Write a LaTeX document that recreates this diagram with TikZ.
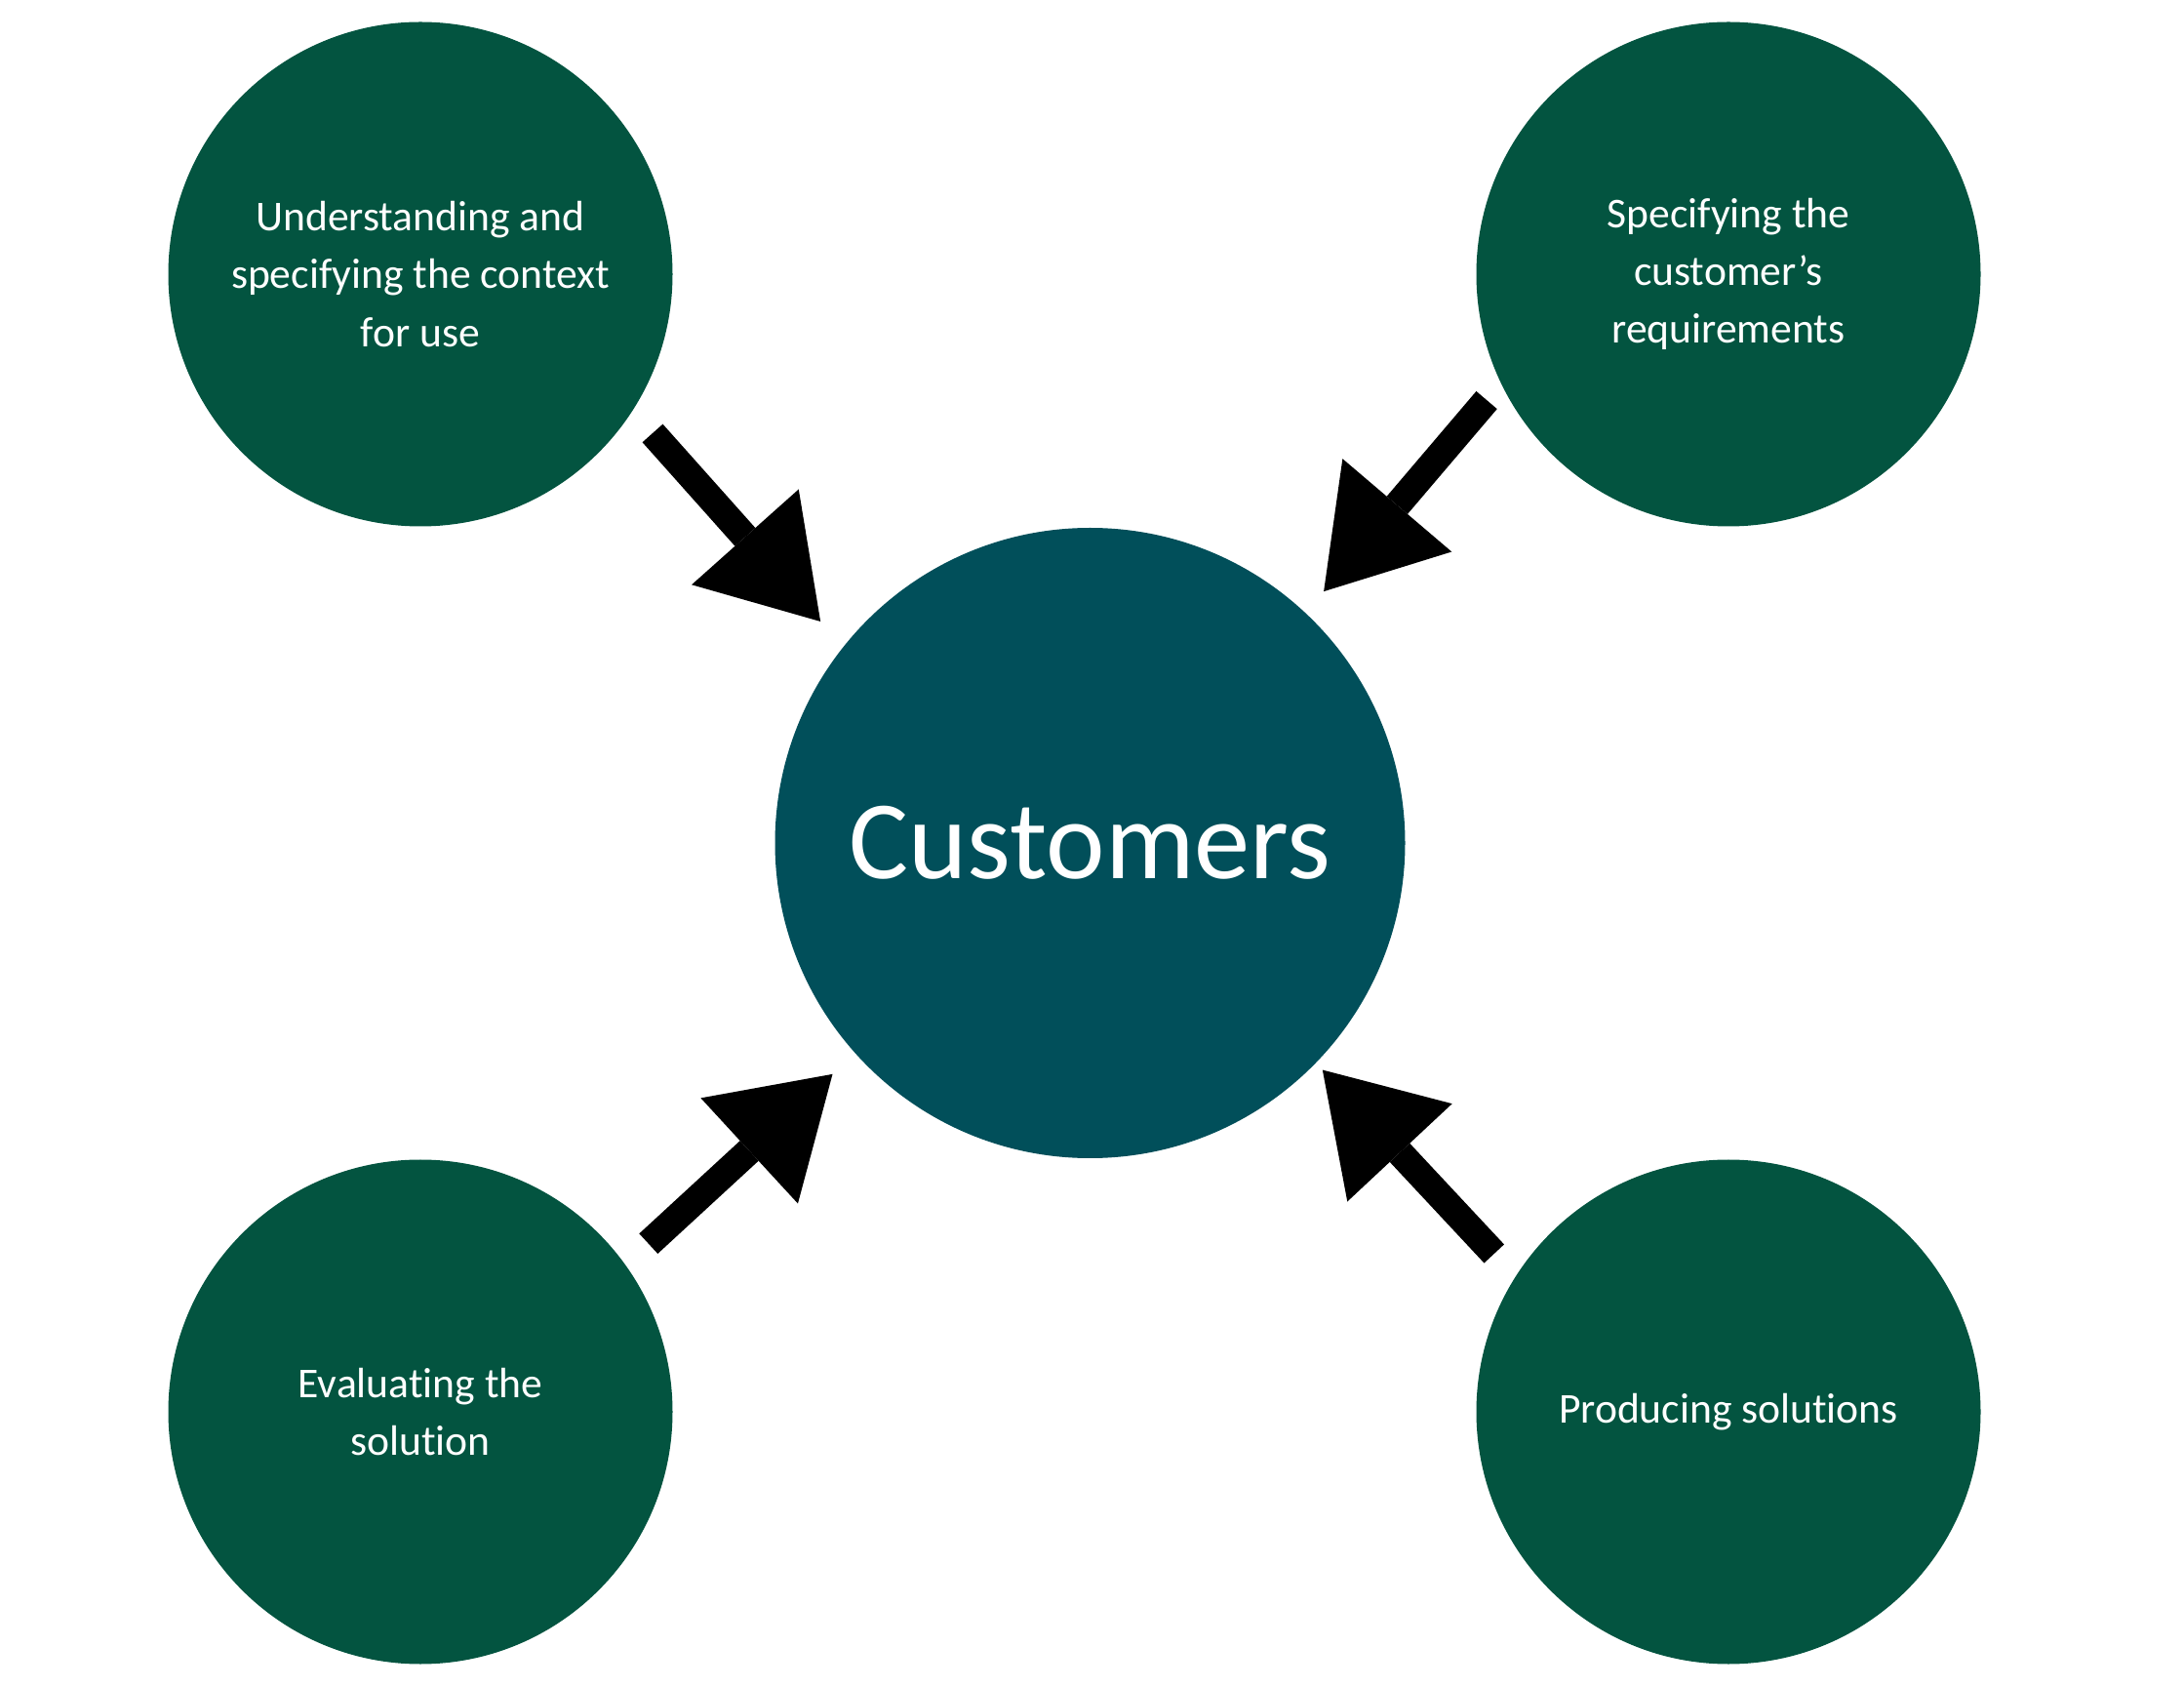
\documentclass[tikz,border=0pt]{standalone}
\usepackage{fontspec}
\setmainfont[Ligatures=NoCommon]{Carlito}
\usetikzlibrary{arrows.meta,calc}

\definecolor{phasegreen}{RGB}{3,84,64}
\definecolor{hubteal}{RGB}{1,79,90}

\tikzset{
  phase/.style={circle, fill=phasegreen, minimum size=5.17cm, inner sep=0pt,
    text=white, align=center, font=\fontsize{12.4}{16.8}\selectfont},
  hub/.style={circle, fill=hubteal, minimum size=6.46cm, inner sep=0pt,
    text=white, font=\fontsize{32.6}{40}\selectfont},
  bigarrow/.style={line width=2.8mm,
    -{Triangle[length=11.6mm,width=14.7mm,line width=0pt]}},
}

\begin{document}
\begin{tikzpicture}
        % Step 1: page frame
        \useasboundingbox (0,0) rectangle (22.39,17.28);

        % Step 2: the four phases round the customer
        \node[phase] (ctx) at (4.31,14.47) {Understanding and\\specifying the context\\for use};
        \node[phase] (req) at (17.72,14.47) {Specifying the\\customer’s\\requirements};
        \node[phase] (eva) at (4.31,2.81) {Evaluating the\\solution};
        \node[phase] (prod) at (17.72,2.81) {Producing solutions};

        % Step 3: the customer in the middle
        \node[hub] (cust) at (11.175,8.64) {Customers};

        % Step 4: arrow ends, just off each circle
        \coordinate (ctxout) at ($(ctx)+(-34.4:2.885)$);
        \coordinate (reqout) at ($(req)+(207.5:2.795)$);
        \coordinate (evaout) at ($(eva)+(36.4:2.905)$);
        \coordinate (prodout) at ($(prod)+(146:2.898)$);
        \coordinate (custnw) at ($(cust)+(140.6:3.577)$);
        \coordinate (custne) at ($(cust)+(47.1:3.52)$);
        \coordinate (custsw) at ($(cust)+(221.9:3.547)$);
        \coordinate (custse) at ($(cust)+(-44.3:3.33)$);

        % Step 5: arrows into the customer
        \draw[bigarrow] (ctxout) -- (custnw);
        \draw[bigarrow] (reqout) -- (custne);
        \draw[bigarrow] (evaout) -- (custsw);
        \draw[bigarrow] (prodout) -- (custse);
\end{tikzpicture}
\end{document}
